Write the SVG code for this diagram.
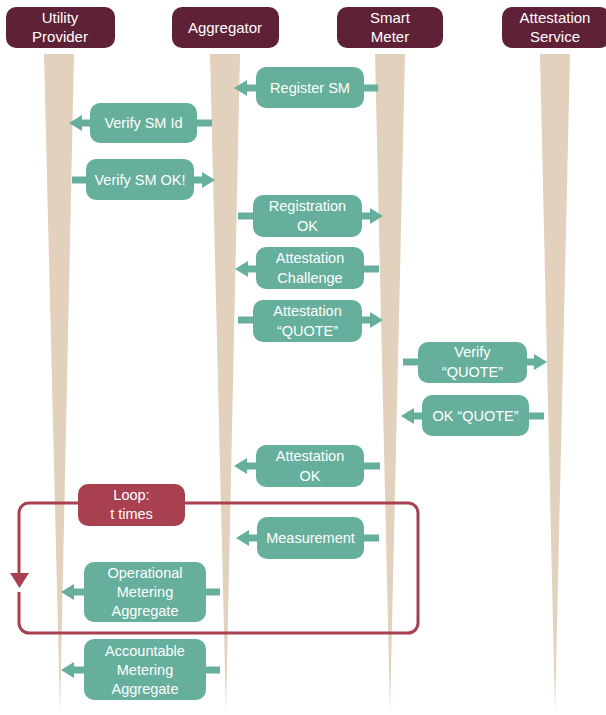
<svg xmlns="http://www.w3.org/2000/svg" width="606" height="715" viewBox="0 0 606 715">
<style>
.hdr{fill:#5f2137}
.life{fill:#e2d1bc}
.msg{fill:#66af9c}
.arr{fill:#66af9c}
.t{font-family:"Liberation Sans",Arial,sans-serif;font-size:14.5px;fill:#ffffff;text-anchor:middle}
.th{font-family:"Liberation Sans",Arial,sans-serif;font-size:15px;fill:#ffffff;text-anchor:middle}
.loop{fill:none;stroke:#a9404f;stroke-width:3}
</style>
<rect width="606" height="715" fill="#ffffff"/>
<g id="lifelines">
<polygon class="life" points="44,54 74,54 60,712"/>
<polygon class="life" points="210,54 240,54 226,712"/>
<polygon class="life" points="375,54 405,54 390,712"/>
<polygon class="life" points="540,54 570,54 555,712"/>
</g>
<g id="utility"><rect class="hdr" x="6" y="7" width="109" height="41" rx="10"/><text class="th" x="60" y="23">Utility</text><text class="th" x="60" y="42">Provider</text></g>
<g id="aggregator"><rect class="hdr" x="172" y="7" width="107" height="41" rx="10"/><text class="th" x="225" y="33">Aggregator</text></g>
<g id="smartmeter"><rect class="hdr" x="337" y="7" width="106" height="41" rx="10"/><text class="th" x="390" y="23">Smart</text><text class="th" x="390" y="42">Meter</text></g>
<g id="attestation"><rect class="hdr" x="502" y="7" width="108" height="41" rx="10"/><text class="th" x="555" y="23">Attestation</text><text class="th" x="555" y="42">Service</text></g>
<g id="loop">
<rect class="loop" x="19" y="503" width="399" height="130" rx="10"/>
<rect fill="#ffffff" x="16" y="583" width="7" height="9"/>
<polygon fill="#a9404f" points="10,573 29,573 19.5,588"/>
</g>
<g id="connectors">
<path class="arr" d="M378,84.5 H247 V80 L234,88 L247,96 V91.5 H378 Z"/>
<path class="arr" d="M212,119.5 H82 V115 L69,123 L82,131 V126.5 H212 Z"/>
<path class="arr" d="M72,176.5 H202 V172 L215,180 L202,188 V183.5 H72 Z"/>
<path class="arr" d="M238,212.5 H370 V208 L383,216 L370,224 V219.5 H238 Z"/>
<path class="arr" d="M379,265.5 H248 V261 L235,269 L248,277 V272.5 H379 Z"/>
<path class="arr" d="M238,316.5 H370 V312 L383,320 L370,328 V323.5 H238 Z"/>
<path class="arr" d="M403,358.5 H534 V354 L547,362 L534,370 V365.5 H403 Z"/>
<path class="arr" d="M544,412.5 H414 V408 L401,416 L414,424 V419.5 H544 Z"/>
<path class="arr" d="M380,462.5 H247 V458 L234,466 L247,474 V469.5 H380 Z"/>
<path class="arr" d="M379,534.5 H249 V530 L236,538 L249,546 V541.5 H379 Z"/>
<path class="arr" d="M220,588.5 H74 V584 L61,592 L74,600 V595.5 H220 Z"/>
<path class="arr" d="M220,666.5 H74 V662 L61,670 L74,678 V673.5 H220 Z"/>
</g>
<g id="m1"><rect class="msg" x="256" y="67" width="108" height="41" rx="10"/><text class="t" x="310" y="93">Register SM</text></g>
<g id="m2"><rect class="msg" x="90" y="103" width="107" height="40" rx="10"/><text class="t" x="143.5" y="128">Verify SM Id</text></g>
<g id="m3"><rect class="msg" x="86" y="159" width="108" height="41" rx="10"/><text class="t" x="140" y="185">Verify SM OK!</text></g>
<g id="m4"><rect class="msg" x="253" y="195" width="109" height="42" rx="10"/><text class="t" x="307.5" y="211">Registration</text><text class="t" x="307.5" y="231">OK</text></g>
<g id="m5"><rect class="msg" x="256" y="247" width="108" height="42" rx="10"/><text class="t" x="310" y="263">Attestation</text><text class="t" x="310" y="283">Challenge</text></g>
<g id="m6"><rect class="msg" x="253" y="300" width="109" height="42" rx="10"/><text class="t" x="307.5" y="316">Attestation</text><text class="t" x="307.5" y="336">“QUOTE”</text></g>
<g id="m7"><rect class="msg" x="418" y="342" width="109" height="41" rx="10"/><text class="t" x="472.5" y="357">Verify</text><text class="t" x="472.5" y="377">“QUOTE”</text></g>
<g id="m8"><rect class="msg" x="422" y="395" width="107" height="41" rx="10"/><text class="t" x="475.5" y="421">OK “QUOTE”</text></g>
<g id="m9"><rect class="msg" x="256" y="445" width="108" height="42" rx="10"/><text class="t" x="310" y="461">Attestation</text><text class="t" x="310" y="481">OK</text></g>
<g id="looplabel"><rect fill="#a9404f" x="78" y="484" width="107" height="42" rx="10"/><text class="t" x="131.5" y="500">Loop:</text><text class="t" x="131.5" y="519">t times</text></g>
<g id="m10"><rect class="msg" x="257" y="517" width="107" height="42" rx="10"/><text class="t" x="310.5" y="543">Measurement</text></g>
<g id="m11"><rect class="msg" x="84" y="562" width="122" height="60" rx="10"/><text class="t" x="145" y="578">Operational</text><text class="t" x="145" y="597">Metering</text><text class="t" x="145" y="616">Aggregate</text></g>
<g id="m12"><rect class="msg" x="84" y="639" width="122" height="61" rx="10"/><text class="t" x="145" y="656">Accountable</text><text class="t" x="145" y="675">Metering</text><text class="t" x="145" y="694">Aggregate</text></g>
</svg>
